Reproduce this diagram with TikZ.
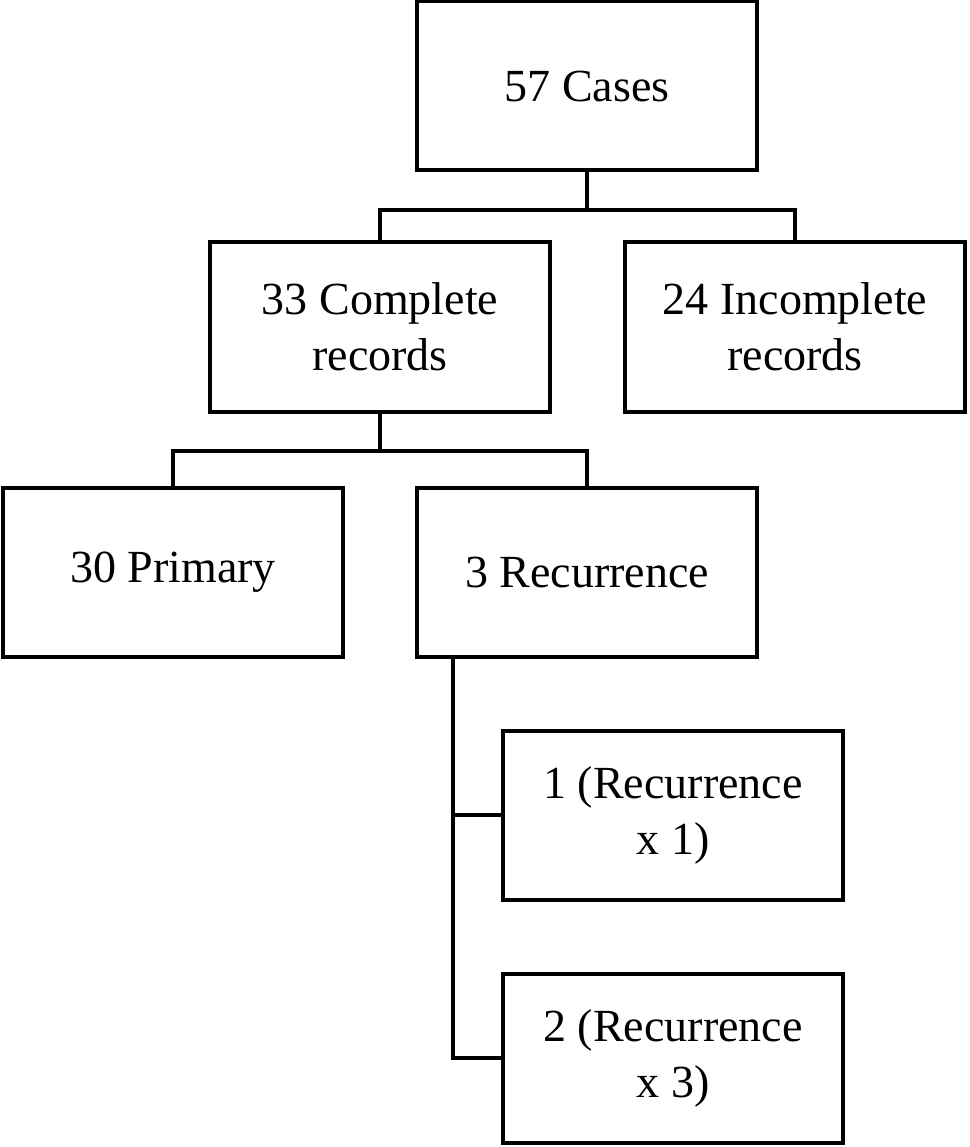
\documentclass[tikz,border=0pt]{standalone}
\usepackage{fontspec}
\setmainfont{Liberation Serif}
\begin{document}
\begin{tikzpicture}[x=1pt,y=-1pt,
  box/.style={draw,line width=4pt,minimum width=340pt,minimum height=169pt,align=center,inner sep=0pt,font=\fontsize{46}{56}\selectfont},
  conn/.style={line width=4pt}]
\useasboundingbox (0,0) rectangle (969,1147);
\node[box] (c57) at (587,86) {57 Cases};
\node[box] (c33) at (380,327) {33 Complete\\records};
\node[box] (c24) at (795,327) {24 Incomplete\\records};
\node[box] (p30) at (173,572) {30 Primary};
\node[box] (r3) at (587,572) {3 Recurrence};
\node[box] (r1) at (673,815) {1 (Recurrence\\x 1)};
\node[box] (r2) at (673,1058) {2 (Recurrence\\x 3)};
\draw[conn] (c57.south) -- ++(0,38) coordinate (j1);
\draw[conn] (j1) -| (c33.north);
\draw[conn] (j1) -| (c24.north);
\draw[conn] (c33.south) -- ++(0,37) coordinate (j2);
\draw[conn] (j2) -| (p30.north);
\draw[conn] (j2) -| (r3.north);
\coordinate (v) at ([xshift=-134pt]r3.south);
\draw[conn] (v) |- (r1.west);
\draw[conn] (v) |- (r2.west);
\end{tikzpicture}
\end{document}
